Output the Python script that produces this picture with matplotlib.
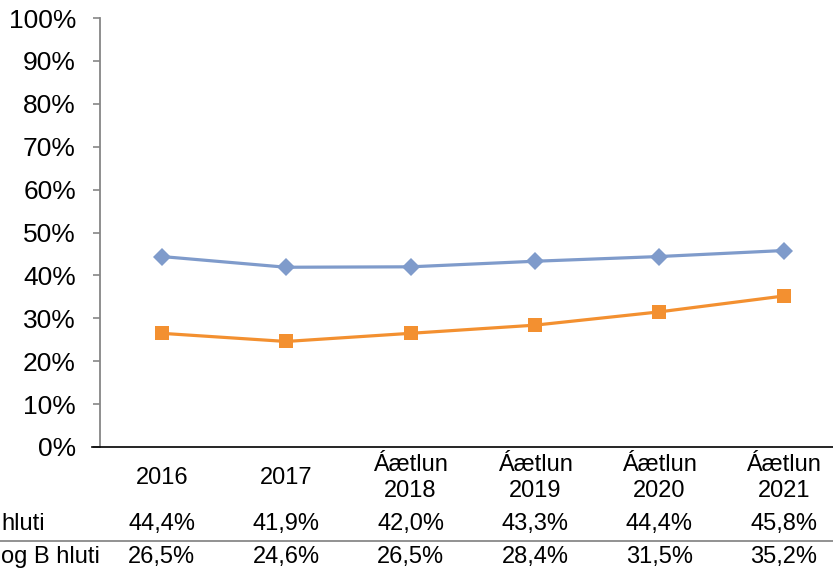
import numpy as np
import matplotlib.pyplot as plt
from matplotlib.lines import Line2D

plt.rcParams['font.family'] = ['Liberation Sans', 'DejaVu Sans']

categories = ['2016', '2017', 'Áætlun\n2018', 'Áætlun\n2019', 'Áætlun\n2020', 'Áætlun\n2021']
row_labels = ['hluti', 'og B hluti']
a_hluti = [44.4, 41.9, 42.0, 43.3, 44.4, 45.8]
ab_hluti = [26.5, 24.6, 26.5, 28.4, 31.5, 35.2]
y_ticks = np.arange(0, 101, 10)

W, H = 833, 573
fig = plt.figure(figsize=(W / 100, H / 100), dpi=100)
# plot area runs past the right edge of the figure, as in the reference crop
ax = fig.add_axes([99.5 / W, (H - 447) / H, 746.5 / W, 429 / H])

x = np.arange(len(categories))
ax.plot(x, a_hluti, color='#7f9bcb', lw=2.3, marker='D', ms=9.5,
        markeredgewidth=0, zorder=3)
ax.plot(x, ab_hluti, color='#f39030', lw=2.3, marker='s', ms=10.5,
        markeredgewidth=0, zorder=3)

ax.set_xlim(-0.5, len(categories) - 0.5)
ax.set_ylim(0, 100)
ax.set_yticks(y_ticks)
ax.set_yticklabels(['%d%%' % t for t in y_ticks], fontsize=19)
ax.tick_params(axis='y', direction='out', length=5, width=1.2,
               color='#868686', pad=12)
ax.set_xticks([])
for s in ['top', 'right', 'bottom']:
    ax.spines[s].set_visible(False)
ax.spines['left'].set_color('#868686')
ax.spines['left'].set_linewidth(1.3)

# horizontal axis line, extended left past the y axis
fig.add_artist(Line2D([92 / W, 1], [(H - 447) / H] * 2, color='black', lw=1.2))

fs = 17
trans = ax.get_xaxis_transform()
for i, c in enumerate(categories):
    ax.text(i, -(478 - 447) / 429, c, ha='center', va='center',
            fontsize=fs, transform=trans, linespacing=1.2)

row_y = [524, 557]
for r, vals in enumerate([a_hluti, ab_hluti]):
    yy = -(row_y[r] - 447) / 429
    for i, v in enumerate(vals):
        ax.text(i, yy, ('%.1f%%' % v).replace('.', ','), ha='center',
                va='center', fontsize=fs, transform=trans)

# row labels of the data table
fig.text(1 / W, (H - 524) / H, row_labels[0], ha='left', va='center', fontsize=fs)
fig.text(1 / W, (H - 557) / H, row_labels[1], ha='left', va='center', fontsize=fs)
fig.add_artist(Line2D([0, 1], [(H - 541) / H] * 2, color='#7f7f7f', lw=1.2))

plt.savefig('out.png', dpi=100)
